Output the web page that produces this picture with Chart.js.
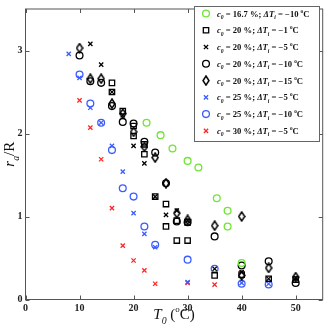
<!DOCTYPE html>
<html>
<head>
<meta charset="utf-8">
<script src="https://cdn.jsdelivr.net/npm/chart.js@4.4.1/dist/chart.umd.min.js"></script>
<style>
  html, body { margin: 0; padding: 0; background: #fff; }
</style>
</head>
<body>
<canvas id="chart" width="328" height="331"></canvas>
<script>
const X_TICKS = [0, 10, 20, 30, 40, 50];
const Y_TICKS = [0, 1, 2, 3];
const X_MAX = 55;
const Y_MAX = 3.5;

const LEGEND_C = ["16.7", "20", "20", "20", "20", "25", "25", "30"];
const LEGEND_DT = ["−10", "−1", "−5", "−10", "−15", "−5", "−10", "−5"];

// c0 = 16.7 %, dTi = -10
const T0_167_10 = [22.4, 25, 27.2, 30, 32, 35.4, 37.4, 37.4, 40];
const RA_167_10 = [2.13, 1.98, 1.82, 1.67, 1.59, 1.22, 1.07, 0.88, 0.44];
// c0 = 20 %, dTi = -1
const T0_20_1 = [16, 16, 18, 20, 20, 22, 22, 24, 26, 26, 28, 28, 30, 30, 35, 40, 45, 50];
const RA_20_1 = [2.61, 2.50, 2.27, 2.09, 1.97, 1.87, 1.75, 1.24, 1.15, 0.88, 0.95, 0.71, 0.93, 0.71, 0.29, 0.30, 0.25, 0.24];
// c0 = 20 %, dTi = -5
const T0_20_5 = [12, 14, 16, 18, 20, 22, 24, 26, 28, 30, 35, 40, 45, 50];
const RA_20_5 = [3.08, 2.83, 2.50, 2.22, 1.85, 1.64, 1.24, 1.02, 1.07, 0.95, 0.37, 0.33, 0.25, 0.26];
// c0 = 20 %, dTi = -10
const T0_20_10 = [10, 12, 14, 16, 18, 20, 22, 24, 26, 28, 30, 35, 40, 45, 50];
const RA_20_10 = [2.94, 2.63, 2.61, 2.33, 2.14, 2.12, 1.90, 1.77, 1.40, 0.94, 0.93, 0.76, 0.41, 0.46, 0.20];
// c0 = 20 %, dTi = -15
const T0_20_15 = [10, 12, 14, 16, 18, 20, 22, 24, 26, 28, 30, 35, 40, 40, 45, 50];
const RA_20_15 = [3.03, 2.66, 2.66, 2.36, 2.24, 2.02, 1.84, 1.71, 1.40, 1.04, 0.96, 0.89, 1.00, 0.29, 0.38, 0.27];
// c0 = 25 %, dTi = -5
const T0_25_5 = [8, 10, 12, 14, 16, 18, 20, 22, 24, 30, 40, 45];
const RA_25_5 = [2.96, 2.67, 2.31, 2.13, 1.85, 1.54, 1.04, 0.79, 0.63, 0.21, 0.20, 0.19];
// c0 = 25 %, dTi = -10
const T0_25_10 = [10, 12, 14, 16, 18, 20, 22, 24, 30, 35, 40, 45];
const RA_25_10 = [2.71, 2.36, 2.13, 1.80, 1.34, 1.24, 0.88, 0.66, 0.48, 0.37, 0.19, 0.18];
// c0 = 30 %, dTi = -5
const T0_30_5 = [10, 12, 14, 16, 18, 20, 22, 24, 30, 35];
const RA_30_5 = [2.40, 2.07, 1.69, 1.10, 0.65, 0.47, 0.35, 0.19, 0.20, 0.18];

const GREEN = "#6fe634";
const BLUE = "#3b5cff";
const RED = "#ff2626";
const BLACK = "#000";
const SERIF = "'Liberation Serif', 'Times New Roman', serif";

// taller-than-wide diamond, like the original plot's marker
function diamondImage() {
  const c = document.createElement("canvas");
  c.width = 8; c.height = 11;
  const g = c.getContext("2d");
  g.strokeStyle = BLACK;
  g.lineWidth = 1.5;
  g.beginPath();
  g.moveTo(4, 1); g.lineTo(7, 5.5); g.lineTo(4, 10); g.lineTo(1, 5.5);
  g.closePath();
  g.stroke();
  return c;
}
const DIAMOND = diamondImage();

function pts(xs, ys) {
  return xs.map((x, i) => ({ x, y: ys[i] }));
}

const SERIES = [
  { xs: T0_167_10, ys: RA_167_10, color: GREEN, style: "circle", radius: 3.4 },
  { xs: T0_20_1, ys: RA_20_1, color: BLACK, style: "rect", radius: 3.8 },
  { xs: T0_20_5, ys: RA_20_5, color: BLACK, style: "crossRot", radius: 3 },
  { xs: T0_20_10, ys: RA_20_10, color: BLACK, style: "circle", radius: 3.4 },
  { xs: T0_20_15, ys: RA_20_15, color: BLACK, style: DIAMOND, radius: 4 },
  { xs: T0_25_5, ys: RA_25_5, color: BLUE, style: "crossRot", radius: 3 },
  { xs: T0_25_10, ys: RA_25_10, color: BLUE, style: "circle", radius: 3.4 },
  { xs: T0_30_5, ys: RA_30_5, color: RED, style: "crossRot", radius: 3 },
];

// rich text: kinds n normal, i italic, si italic subscript, p superscript
const KIND = { n: [1, 0, false], i: [1, 0, true], si: [0.65, 0.3, true], p: [0.6, -0.45, false] };
function rich(ctx, parts, x, y, size, bold, align) {
  const font = (k) => {
    const [s, , it] = KIND[k];
    return `${it ? "italic " : ""}${bold ? "bold " : ""}${(size * s).toFixed(1)}px ${SERIF}`;
  };
  let w = 0;
  for (const [t, k] of parts) { ctx.font = font(k); w += ctx.measureText(t).width; }
  let cx = align === "center" ? x - w / 2 : x;
  ctx.textAlign = "left";
  ctx.textBaseline = "alphabetic";
  for (const [t, k] of parts) {
    ctx.font = font(k);
    ctx.fillText(t, cx, y + KIND[k][1] * size);
    cx += ctx.measureText(t).width;
  }
}

const decor = {
  id: "decor",
  afterDatasetsDraw(chart) {
    const { ctx, chartArea: a, scales } = chart;
    ctx.save();
    // frame
    ctx.strokeStyle = "#555";
    ctx.lineWidth = 1;
    ctx.strokeRect(a.left, a.top, a.right - a.left, a.bottom - a.top);
    // inward ticks on all four sides
    ctx.beginPath();
    for (const v of X_TICKS) {
      const px = Math.round(scales.x.getPixelForValue(v)) + 0.5;
      ctx.moveTo(px, a.bottom); ctx.lineTo(px, a.bottom - 4);
      ctx.moveTo(px, a.top); ctx.lineTo(px, a.top + 4);
    }
    for (const v of Y_TICKS) {
      const py = Math.round(scales.y.getPixelForValue(v)) + 0.5;
      ctx.moveTo(a.left, py); ctx.lineTo(a.left + 4, py);
      ctx.moveTo(a.right, py); ctx.lineTo(a.right - 4, py);
    }
    ctx.stroke();

    // axis titles
    ctx.fillStyle = "#111";
    rich(ctx, [["T", "i"], ["0", "si"], [" (", "n"], ["o", "p"], ["C)", "n"]],
      (a.left + a.right) / 2, 319, 15, false, "center");
    ctx.save();
    ctx.translate(14, (a.top + a.bottom) / 2);
    ctx.rotate(-Math.PI / 2);
    rich(ctx, [["r", "i"], ["a", "si"], ["/R", "n"]], 0, 0, 15, false, "center");
    ctx.restore();

    // legend
    const lx = 194.5, ly = 6.5, lw = 125, lh = 135;
    ctx.fillStyle = "#fff";
    ctx.fillRect(lx, ly, lw, lh);
    ctx.strokeStyle = "#666";
    ctx.strokeRect(lx, ly, lw, lh);
    SERIES.forEach((s, i) => {
      const y = 13.5 + i * 16.77;
      ctx.strokeStyle = s.color;
      ctx.fillStyle = "rgba(0,0,0,0)";
      ctx.lineWidth = 1.3;
      Chart.helpers.drawPoint(ctx, { pointStyle: s.style, radius: s.radius, rotation: 0, borderWidth: 1.3 }, 206, y);
      ctx.fillStyle = "#111";
      rich(ctx, [["c", "i"], ["0", "si"], [` = ${LEGEND_C[i]} %; `, "n"], ["ΔT", "i"], ["i", "si"],
        [` = ${LEGEND_DT[i]} `, "n"], ["o", "p"], ["C", "n"]], 217, y + 3, 8.6, true, "left");
    });
    ctx.restore();
  },
};

new Chart(document.getElementById("chart"), {
  type: "scatter",
  data: {
    datasets: SERIES.map((s) => ({
      data: pts(s.xs, s.ys),
      pointStyle: s.style,
      pointRadius: s.radius,
      pointHoverRadius: s.radius,
      pointBorderColor: s.color,
      pointBackgroundColor: "rgba(0,0,0,0)",
      pointBorderWidth: 1.3,
      showLine: false,
    })),
  },
  options: {
    responsive: false,
    animation: false,
    devicePixelRatio: 1,
    layout: { padding: { left: 0, right: 4.5, top: 4.5, bottom: 0 } },
    plugins: { legend: { display: false }, tooltip: { enabled: false } },
    scales: {
      x: {
        type: "linear",
        min: 0,
        max: X_MAX,
        afterFit: (s) => { s.height = 31.5; },
        afterBuildTicks: (s) => { s.ticks = X_TICKS.map((v) => ({ value: v })); },
        grid: { display: false, drawTicks: false },
        border: { display: false },
        ticks: { padding: 3, color: "#222", font: { family: SERIF, weight: "bold", size: 10 } },
      },
      y: {
        type: "linear",
        min: 0,
        max: Y_MAX,
        afterFit: (s) => { s.width = 25.5; },
        afterBuildTicks: (s) => { s.ticks = Y_TICKS.map((v) => ({ value: v })); },
        grid: { display: false, drawTicks: false },
        border: { display: false },
        ticks: { padding: 3, color: "#222", font: { family: SERIF, weight: "bold", size: 10 } },
      },
    },
  },
  plugins: [decor],
});
</script>
</body>
</html>
